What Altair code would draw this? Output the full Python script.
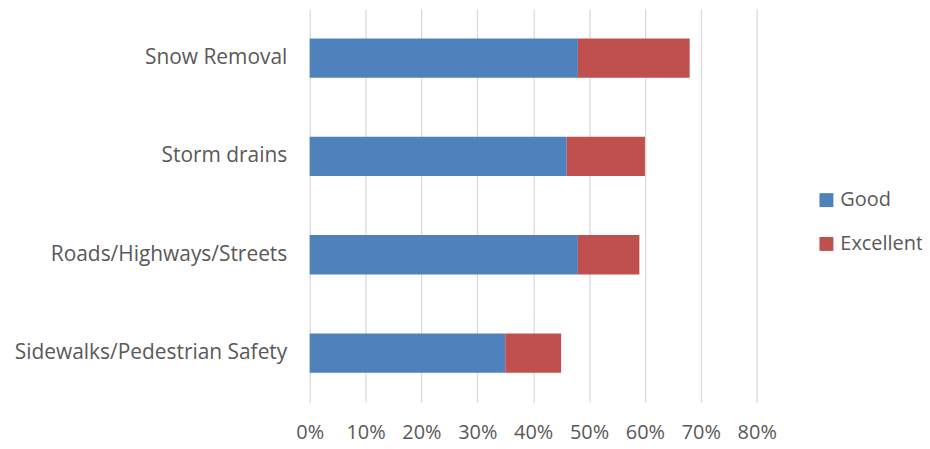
import altair as alt
import pandas as pd

categories = ["Snow Removal", "Storm drains", "Roads/Highways/Streets", "Sidewalks/Pedestrian Safety"]
good = [0.48, 0.46, 0.48, 0.35]
excellent = [0.20, 0.14, 0.11, 0.10]
series = ["Good", "Excellent"]
colors = ["#4f81bd", "#c0504d"]

rows = []
for c, g, e in zip(categories, good, excellent):
    rows.append({"category": c, "series": "Good", "value": g, "ord": 0})
    rows.append({"category": c, "series": "Excellent", "value": e, "ord": 1})
df = pd.DataFrame(rows)

FONT = "Open Sans"
TXT = "#595959"

chart = alt.Chart(df).mark_bar().encode(
    y=alt.Y("category:N", sort=categories, title=None,
            scale=alt.Scale(paddingInner=0.6, paddingOuter=0.3),
            axis=alt.Axis(domain=False, ticks=False, grid=False, labelFont=FONT,
                          labelFontSize=21, labelColor=TXT, labelPadding=23, labelLimit=400)),
    x=alt.X("value:Q", stack="zero", title=None,
            scale=alt.Scale(domain=[0, 0.8], nice=False),
            axis=alt.Axis(format="%", values=[0, 0.1, 0.2, 0.3, 0.4, 0.5, 0.6, 0.7, 0.8],
                          domain=False, ticks=False, grid=True, gridColor="#d9d9d9",
                          gridWidth=1.3, labelFont=FONT, labelFontSize=20, labelColor=TXT,
                          labelPadding=20, labelFlush=False)),
    color=alt.Color("series:N", sort=series,
                    scale=alt.Scale(domain=series, range=colors),
                    legend=alt.Legend(title=None, orient="none", legendX=509, legendY=182,
                                      symbolType="square", symbolSize=196, symbolStrokeWidth=0,
                                      labelFont=FONT, labelFontSize=20, labelColor=TXT,
                                      labelOffset=4, rowPadding=24, padding=0, labelLimit=0)),
    order=alt.Order("ord:Q"),
).properties(
    width=449, height=395,
    autosize=alt.AutoSizeParams(type="none"),
    padding={"left": 303, "top": 0, "right": 166, "bottom": 46},
).configure_view(stroke=None)

chart.save("out.html", embed_options={"renderer": "svg", "actions": False})
